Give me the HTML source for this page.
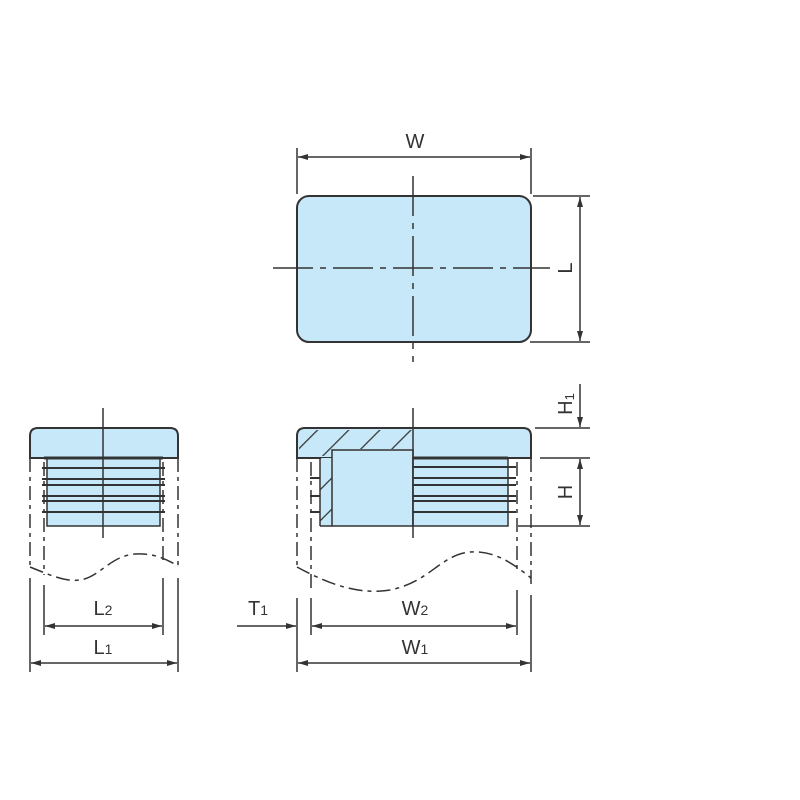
<!DOCTYPE html>
<html><head><meta charset="utf-8"><style>
html,body{margin:0;padding:0;background:#fff;}
svg{display:block}
text{font-family:"Liberation Sans",sans-serif;fill:#333;font-size:20px}
</style></head><body>
<svg width="800" height="800" viewBox="0 0 800 800" xmlns="http://www.w3.org/2000/svg">
<defs>
<marker id="a" viewBox="0 0 10 6" refX="10" refY="3" markerWidth="10" markerHeight="6" orient="auto-start-reverse" markerUnits="userSpaceOnUse"><path d="M0,0 L10,3 L0,6 z" fill="#333"/></marker>
<pattern id="h" patternUnits="userSpaceOnUse" width="22" height="22" patternTransform="rotate(45)"><rect width="22" height="22" fill="#c6e8f8"/><line x1="0" y1="0" x2="0" y2="22" stroke="#333" stroke-width="2.5"/></pattern>
</defs>
<g stroke="#333" fill="none" stroke-width="1.5">
<!-- top view -->
<rect x="297" y="196" width="234" height="146" rx="12" fill="#c6e8f8" stroke-width="2"/>
<line x1="273" y1="268" x2="550" y2="268" stroke-dasharray="40,7,6,7"/>
<line x1="413" y1="176" x2="413" y2="362" stroke-dasharray="40,7,6,7"/>
<line x1="297" y1="148" x2="297" y2="194"/>
<line x1="531" y1="148" x2="531" y2="194"/>
<line x1="298" y1="157" x2="530" y2="157" marker-start="url(#a)" marker-end="url(#a)"/>
<line x1="533" y1="196" x2="590" y2="196"/>
<line x1="530" y1="342" x2="590" y2="342"/>
<line x1="580" y1="197" x2="580" y2="341" marker-start="url(#a)" marker-end="url(#a)"/>

<!-- front section view -->
<path d="M297,458 L297,436 Q297,428 305,428 L523,428 Q531,428 531,436 L531,458 Z" fill="#c6e8f8" stroke-width="2"/>
<path d="M299,456 L299,436 Q299,430 305,430 L412,430 L412,449 L331,449 L331,456 Z" fill="url(#h)" stroke="none"/>
<rect x="320" y="458" width="12" height="68" fill="url(#h)" stroke="none"/>
<rect x="332" y="450" width="81" height="76" fill="#c6e8f8"/>
<line x1="320" y1="458" x2="320" y2="526"/>
<line x1="320" y1="526" x2="332" y2="526"/>
<rect x="413" y="458" width="95" height="68" fill="#c6e8f8"/>
<line x1="413" y1="458" x2="508" y2="458" stroke-width="3"/>
<g stroke-width="2">
<line x1="413" y1="467" x2="516" y2="467"/><line x1="413" y1="478" x2="516" y2="478"/>
<line x1="413" y1="485" x2="516" y2="485"/><line x1="413" y1="496" x2="516" y2="496"/>
<line x1="413" y1="501" x2="516" y2="501"/><line x1="413" y1="512" x2="516" y2="512"/>
<line x1="310" y1="478" x2="320" y2="478"/><line x1="310" y1="496" x2="320" y2="496"/><line x1="310" y1="512" x2="320" y2="512"/>
</g>
<line x1="413" y1="408" x2="413" y2="538"/>
<line x1="297" y1="458" x2="297" y2="567" stroke-dasharray="14,5,4,5"/>
<line x1="311" y1="462" x2="311" y2="592" stroke-dasharray="14,5,4,5"/>
<line x1="517" y1="462" x2="517" y2="572" stroke-dasharray="14,5,4,5"/>
<line x1="531" y1="458" x2="531" y2="588" stroke-dasharray="14,5,4,5"/>
<path d="M297,567 C330,585 360,595 390,590 C430,582 440,555 470,552 C495,550 515,565 531,578" stroke-dasharray="14,5,4,5"/>
<line x1="297" y1="598" x2="297" y2="672"/>
<line x1="311" y1="598" x2="311" y2="635"/>
<line x1="517" y1="590" x2="517" y2="635"/>
<line x1="531" y1="595" x2="531" y2="672"/>
<line x1="237" y1="626" x2="296" y2="626" marker-end="url(#a)"/>
<line x1="312" y1="626" x2="516" y2="626" marker-start="url(#a)" marker-end="url(#a)"/>
<line x1="298" y1="663" x2="530" y2="663" marker-start="url(#a)" marker-end="url(#a)"/>
<line x1="535" y1="428" x2="590" y2="428"/>
<line x1="540" y1="458" x2="590" y2="458"/>
<line x1="518" y1="526" x2="590" y2="526"/>
<line x1="580" y1="384" x2="580" y2="427" marker-end="url(#a)"/>
<line x1="580" y1="459" x2="580" y2="525" marker-start="url(#a)" marker-end="url(#a)"/>

<!-- left side view -->
<path d="M30,458 L30,436 Q30,428 38,428 L170,428 Q178,428 178,436 L178,458 Z" fill="#c6e8f8" stroke-width="2"/>
<rect x="47" y="458" width="113" height="68" fill="#c6e8f8"/>
<line x1="44" y1="458" x2="163" y2="458" stroke-width="3"/>
<g stroke-width="2">
<line x1="42" y1="468" x2="165" y2="468"/><line x1="42" y1="479" x2="165" y2="479"/>
<line x1="42" y1="485" x2="165" y2="485"/><line x1="42" y1="496" x2="165" y2="496"/>
<line x1="42" y1="501" x2="165" y2="501"/><line x1="42" y1="512" x2="165" y2="512"/>
</g>
<line x1="103" y1="408" x2="103" y2="538"/>
<line x1="30" y1="458" x2="30" y2="567" stroke-dasharray="14,5,4,5"/>
<line x1="44" y1="462" x2="44" y2="575" stroke-dasharray="14,5,4,5"/>
<line x1="163" y1="462" x2="163" y2="562" stroke-dasharray="14,5,4,5"/>
<line x1="178" y1="458" x2="178" y2="566" stroke-dasharray="14,5,4,5"/>
<path d="M30,567 C50,575 65,582 80,580 C100,577 110,556 135,554 C152,553 165,558 178,566" stroke-dasharray="14,5,4,5"/>
<line x1="30" y1="578" x2="30" y2="672"/>
<line x1="44" y1="585" x2="44" y2="635"/>
<line x1="163" y1="578" x2="163" y2="635"/>
<line x1="178" y1="578" x2="178" y2="672"/>
<line x1="45" y1="626" x2="162" y2="626" marker-start="url(#a)" marker-end="url(#a)"/>
<line x1="31" y1="663" x2="177" y2="663" marker-start="url(#a)" marker-end="url(#a)"/>
</g>
<text x="415" y="148" text-anchor="middle">W</text>
<text transform="translate(572,268) rotate(-90)" text-anchor="middle">L</text>
<text transform="translate(572,404) rotate(-90)" text-anchor="middle">H<tspan font-size="13" dy="2">1</tspan></text>
<text transform="translate(572,492) rotate(-90)" text-anchor="middle">H</text>
<text x="415" y="615" text-anchor="middle">W<tspan font-size="14">2</tspan></text>
<text x="415" y="654" text-anchor="middle">W<tspan font-size="14">1</tspan></text>
<text x="258" y="615" text-anchor="middle">T<tspan font-size="14">1</tspan></text>
<text x="103" y="615" text-anchor="middle">L<tspan font-size="14">2</tspan></text>
<text x="103" y="654" text-anchor="middle">L<tspan font-size="14">1</tspan></text>
</svg>
</body></html>
